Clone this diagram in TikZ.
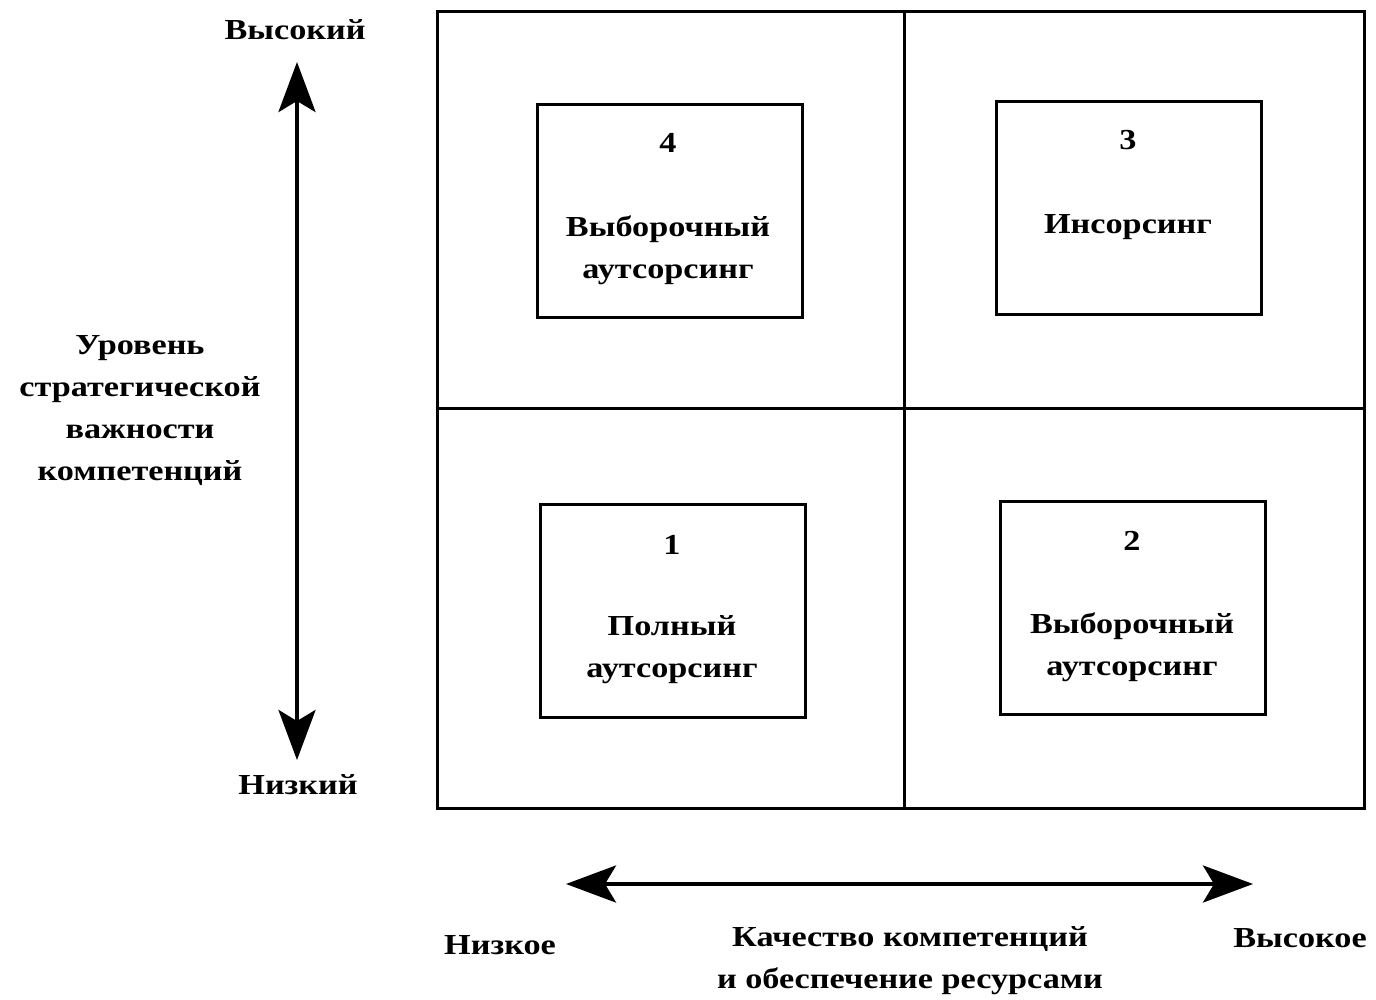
\documentclass[tikz,border=0pt]{standalone}
\usepackage{fontspec}
\setmainfont{Liberation Serif}[FakeStretch=1.18]
\usetikzlibrary{arrows.meta}
\begin{document}
\begin{tikzpicture}[x=1pt,y=-1pt,
  txt/.style={font=\fontsize{29}{42}\selectfont\bfseries, align=center, inner sep=0pt},
  qbox/.style={draw, line width=3pt, minimum width=265pt, minimum height=213pt, inner sep=0pt},
  bigarrow/.style={line width=4pt, {Stealth[length=50pt,width=37pt,inset=11pt]}-{Stealth[length=50pt,width=37pt,inset=11pt]}}
]
\useasboundingbox (0,0) rectangle (1376,1000);
% grid
\node[draw, line width=3pt, minimum width=927pt, minimum height=796pt, inner sep=0pt] (grid) at (900.5,410) {};
\draw[line width=3pt] (grid.north) ++(4,0) coordinate (gt) -- (grid.south -| gt);
\draw[line width=3pt] (grid.west) ++(0,-2) coordinate (gl) -- (grid.east |- gl);
% boxes
\node[qbox] (b4) at (669.5,211) {};
\node[qbox] (b3) at (1128.5,208) {};
\node[qbox] (b1) at (673,611) {};
\node[qbox] (b2) at (1132.5,608) {};
% box texts
\node[txt] (n4) at (668,143) {4};
\node[txt] (t4) at (668,250) {Выборочный\\аутсорсинг};
\node[txt] (n3) at (1128,140) {3};
\node[txt] (t3) at (1128,227) {Инсорсинг};
\node[txt] (n1) at (672,545) {1};
\node[txt] (t1) at (672,650) {Полный\\аутсорсинг};
\node[txt] (n2) at (1132,541) {2};
\node[txt] (t2) at (1132,647) {Выборочный\\аутсорсинг};
% vertical axis
\coordinate (vtop) at (297,62);
\coordinate (vbot) at (297,760);
\draw[bigarrow] (vtop) -- (vbot);
\node[txt] (hi) at (295,30) {Высокий};
\node[txt] (lo) at (298,785) {Низкий};
\node[txt] (ylab) at (140,411) {Уровень\\стратегической\\важности\\компетенций};
% horizontal axis
\coordinate (hl) at (566,884);
\coordinate (hr) at (1253,884);
\draw[bigarrow] (hl) -- (hr);
\node[txt] (xlo) at (500,945) {Низкое};
\node[txt] (xhi) at (1300,938) {Высокое};
\node[txt] (xlab) at (910,961) {Качество компетенций\\и обеспечение ресурсами};
\end{tikzpicture}
\end{document}
